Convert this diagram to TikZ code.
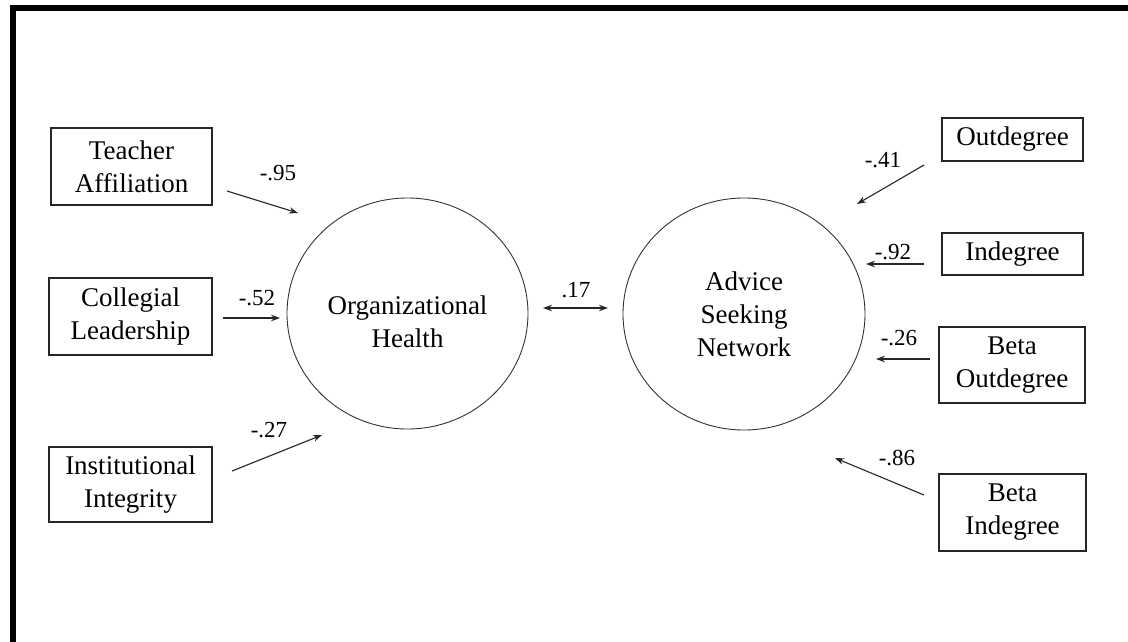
\documentclass[tikz,border=0pt]{standalone}
\usepackage{fontspec}
\setmainfont{Liberation Serif}
\usetikzlibrary{arrows.meta,shapes.geometric}
\tikzset{
  obsbox/.style={draw=black!85, line width=1.1pt, rectangle, inner sep=0pt, align=center,
    font=\fontsize{27}{33}\selectfont},
  latent/.style={draw=black!80, line width=0.9pt, ellipse, inner sep=0pt},
  latenttext/.style={align=center, font=\fontsize{27}{33}\selectfont},
  path arrow/.style={draw=black!85, line width=1.1pt, -{Stealth[length=9pt,width=6.5pt]}},
  both arrow/.style={draw=black!85, line width=1.1pt, {Stealth[length=9pt,width=6.5pt]}-{Stealth[length=9pt,width=6.5pt]}},
  coef/.style={font=\fontsize{23}{27}\selectfont, inner sep=0pt}
}
\begin{document}
\begin{tikzpicture}[x=1pt,y=-1pt]
\useasboundingbox (0,0) rectangle (1128,641);
\fill[white] (0,0) rectangle (1128,641);
% frame
\draw[line width=6pt, miter limit=10] (13,645) -- (13,8) -- (1132,8);

% observed boxes left
\node[obsbox, minimum width=161pt, minimum height=77pt] (ta) at (131.5,166.5) {Teacher\\Affiliation};
\node[obsbox, minimum width=163pt, minimum height=77pt] (cl) at (130.5,316.5) {Collegial\\Leadership};
\node[obsbox, minimum width=163pt, minimum height=75pt] (ii) at (130.5,484.5) {Institutional\\Integrity};

% observed boxes right
\node[obsbox, minimum width=141pt, minimum height=43pt] (od) at (1012.5,139.5) {Outdegree};
\node[obsbox, minimum width=141pt, minimum height=42pt] (id) at (1012.5,254) {Indegree};
\node[obsbox, minimum width=146pt, minimum height=76pt] (bo) at (1012,365) {Beta\\Outdegree};
\node[obsbox, minimum width=147pt, minimum height=77pt] (bi) at (1012.5,512.5) {Beta\\Indegree};

% latent variables
\node[latent, minimum width=241pt, minimum height=231pt] (oh) at (407.5,313.5) {};
\node[latenttext] (ohtext) at (407.5,322) {Organizational\\Health};
\node[latent, minimum width=242pt, minimum height=232pt, latenttext] (asn) at (744,314) {Advice\\Seeking\\Network};

% arrow end points
\coordinate (taS) at (227,191); \coordinate (taE) at (298,213);
\coordinate (clS) at (223,318); \coordinate (clE) at (280,318);
\coordinate (iiS) at (232,471); \coordinate (iiE) at (322,435);
\coordinate (ohR) at (543,308); \coordinate (asnL) at (608,308);
\coordinate (odS) at (924,165); \coordinate (odE) at (857,204);
\coordinate (idS) at (924,264); \coordinate (idE) at (866,264);
\coordinate (boS) at (930,359); \coordinate (boE) at (876,359);
\coordinate (biS) at (924,495); \coordinate (biE) at (835,458);

\draw[path arrow] (taS) -- (taE);
\draw[path arrow] (clS) -- (clE);
\draw[path arrow] (iiS) -- (iiE);
\draw[both arrow] (ohR) -- (asnL);
\draw[path arrow] (odS) -- (odE);
\draw[path arrow] (idS) -- (idE);
\draw[path arrow] (boS) -- (boE);
\draw[path arrow] (biS) -- (biE);

% coefficients
\node[coef] (c1) at (278,173) {-.95};
\node[coef] (c2) at (257,298) {-.52};
\node[coef] (c3) at (269,430) {-.27};
\node[coef] (c4) at (576,290) {.17};
\node[coef] (c5) at (883,160) {-.41};
\node[coef] (c6) at (893,252) {-.92};
\node[coef] (c7) at (899,338) {-.26};
\node[coef] (c8) at (897,458) {-.86};
\end{tikzpicture}
\end{document}
